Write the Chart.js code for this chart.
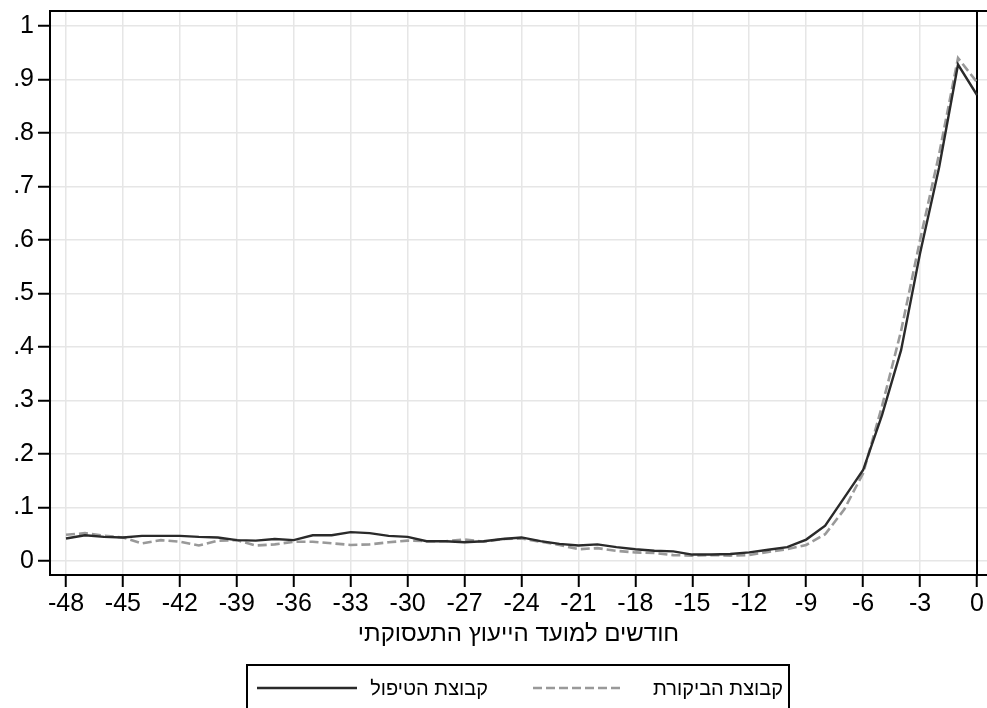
<!DOCTYPE html>
<html>
<head>
<meta charset="utf-8">
<script src="https://cdn.jsdelivr.net/npm/chart.js@4"></script>
<style>
  html, body { margin: 0; padding: 0; background: #fff; }
  #wrap { width: 987px; height: 708px; position: relative; }
</style>
</head>
<body>
<div id="wrap"><canvas id="c" width="987" height="708"></canvas></div>
<script>
// ---- data ----
const months = [-48,-47,-46,-45,-44,-43,-42,-41,-40,-39,-38,-37,-36,-35,-34,-33,-32,-31,-30,-29,-28,-27,-26,-25,-24,-23,-22,-21,-20,-19,-18,-17,-16,-15,-14,-13,-12,-11,-10,-9,-8,-7,-6,-5,-4,-3,-2,-1,0];
const treatment = [0.042,0.048,0.045,0.044,0.047,0.047,0.047,0.045,0.044,0.039,0.038,0.041,0.039,0.048,0.048,0.054,0.052,0.047,0.045,0.037,0.037,0.035,0.037,0.041,0.044,0.037,0.032,0.029,0.031,0.026,0.022,0.019,0.018,0.012,0.012,0.013,0.016,0.021,0.026,0.040,0.066,0.118,0.170,0.273,0.394,0.575,0.735,0.928,0.871];
const control = [0.049,0.052,0.047,0.044,0.033,0.039,0.036,0.029,0.038,0.039,0.029,0.031,0.036,0.036,0.033,0.030,0.031,0.035,0.038,0.037,0.037,0.040,0.036,0.041,0.042,0.036,0.030,0.022,0.024,0.019,0.016,0.015,0.011,0.010,0.011,0.010,0.011,0.017,0.022,0.030,0.050,0.096,0.164,0.290,0.430,0.600,0.760,0.940,0.895];
const xTickValues = [-48,-45,-42,-39,-36,-33,-30,-27,-24,-21,-18,-15,-12,-9,-6,-3,0];
const xTickLabels = ['-48','-45','-42','-39','-36','-33','-30','-27','-24','-21','-18','-15','-12','-9','-6','-3','0'];
const yTickValues = [0,0.1,0.2,0.3,0.4,0.5,0.6,0.7,0.8,0.9,1];
const yTickLabels = ['0','.1','.2','.3','.4','.5','.6','.7','.8','.9','1'];
const seriesNames = ['קבוצת הטיפול', 'קבוצת הביקורת'];
const xTitle = 'חודשים למועד הייעוץ התעסוקתי';

const FONT = "'Liberation Sans', Arial, sans-serif";
const solidColor = '#2a2a2a';
const dashColor = '#999999';
const dashPattern = [9, 4];

const frame = {
  id: 'frame',
  beforeDatasetsDraw(chart) {
    const {ctx, chartArea: a, scales: {x}} = chart;
    ctx.save();
    ctx.strokeStyle = '#000';
    ctx.lineWidth = 2;
    ctx.beginPath();
    ctx.moveTo(a.left - 1, a.top);
    ctx.lineTo(a.right, a.top);
    const px = x.getPixelForValue(0);
    ctx.moveTo(px, a.top);
    ctx.lineTo(px, a.bottom);
    ctx.stroke();
    ctx.restore();
  },
  afterDraw(chart) {
    const ctx = chart.ctx;
    ctx.save();
    // legend box
    ctx.strokeStyle = '#000';
    ctx.lineWidth = 2;
    ctx.strokeRect(247, 665, 542, 60);
    const ly = 688;
    ctx.lineWidth = 2.4;
    ctx.strokeStyle = solidColor;
    ctx.setLineDash([]);
    ctx.beginPath(); ctx.moveTo(257, ly); ctx.lineTo(357, ly); ctx.stroke();
    ctx.strokeStyle = dashColor;
    ctx.lineWidth = 2.6;
    ctx.setLineDash(dashPattern);
    ctx.beginPath(); ctx.moveTo(533, ly); ctx.lineTo(624, ly); ctx.stroke();
    ctx.setLineDash([]);
    ctx.fillStyle = '#000';
    ctx.font = '20px ' + FONT;
    ctx.textBaseline = 'middle';
    ctx.textAlign = 'right';
    ctx.fillText(seriesNames[0], 488, ly + 1);
    ctx.fillText(seriesNames[1], 783, ly + 1);
    ctx.restore();
  }
};

new Chart(document.getElementById('c'), {
  type: 'line',
  data: {
    datasets: [
      {
        label: seriesNames[0],
        data: months.map((m, i) => ({x: m, y: treatment[i]})),
        borderColor: solidColor,
        borderWidth: 2.4,
        pointRadius: 0,
        tension: 0,
        fill: false
      },
      {
        label: seriesNames[1],
        data: months.map((m, i) => ({x: m, y: control[i]})),
        borderColor: dashColor,
        borderWidth: 2.6,
        borderDash: dashPattern,
        pointRadius: 0,
        tension: 0,
        fill: false
      }
    ]
  },
  options: {
    responsive: false,
    animation: false,
    devicePixelRatio: 1,
    layout: { padding: { top: 11, right: 0, bottom: 53, left: 0 } },
    plugins: { legend: { display: false }, tooltip: { enabled: false } },
    scales: {
      x: {
        type: 'linear',
        min: -48.843,
        max: 0.527,
        afterBuildTicks: s => { s.ticks = xTickValues.map(v => ({value: v})); },
        afterFit: s => { s.height = 80; s.paddingLeft = 0; s.paddingRight = 0; },
        ticks: {
          autoSkip: false, maxRotation: 0, color: '#000', padding: 2,
          font: { family: FONT, size: 25 },
          callback: (v, i) => xTickLabels[i]
        },
        grid: { color: '#e6e6e6', lineWidth: 1.5, tickColor: '#000', tickWidth: 2, tickLength: 12 },
        border: { color: '#000', width: 2 },
        title: {
          display: true, text: xTitle, color: '#000',
          font: { family: FONT, size: 24 }, padding: { top: 0, bottom: 6 }
        }
      },
      y: {
        type: 'linear',
        min: -0.0262,
        max: 1.028,
        afterBuildTicks: s => { s.ticks = yTickValues.map(v => ({value: v})); },
        afterFit: s => { s.width = 50; s.paddingTop = 0; s.paddingBottom = 0; },
        ticks: {
          color: '#000', padding: 4,
          font: { family: FONT, size: 25 },
          callback: (v, i) => yTickLabels[i]
        },
        grid: { color: '#e6e6e6', lineWidth: 1.5, tickColor: '#000', tickWidth: 2, tickLength: 12 },
        border: { color: '#000', width: 2 }
      }
    }
  },
  plugins: [frame]
});
</script>
</body>
</html>
